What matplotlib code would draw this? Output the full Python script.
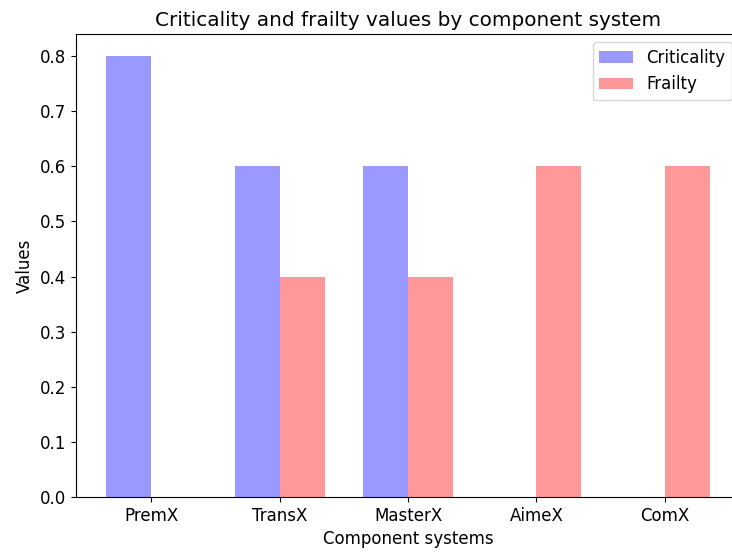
import numpy as np
import matplotlib
matplotlib.use("Agg")
import matplotlib.pyplot as plt

plt.rcParams["font.size"] = 12

# data
systems = ["PremX", "TransX", "MasterX", "AimeX", "ComX"]
criticality = [0.8, 0.6, 0.6, 0.0, 0.0]
frailty = [0.0, 0.4, 0.4, 0.6, 0.6]

index = np.arange(len(systems))
bar_width = 0.35

fig, ax = plt.subplots(figsize=(7.32, 5.52), dpi=100)
fig.subplots_adjust(left=76 / 732, right=740 / 732, bottom=1 - 497 / 552, top=1 - 34 / 552)

ax.bar(index, criticality, bar_width, alpha=0.4, color="b", label="Criticality")
ax.bar(index + bar_width, frailty, bar_width, alpha=0.4, color="r", label="Frailty")

ax.set_xlabel("Component systems")
ax.set_ylabel("Values")
ax.set_title("Criticality and frailty values by component system", fontsize=14.4)
ax.set_xticks(index + bar_width / 2)
ax.set_xticklabels(systems)
ax.legend()

fig.savefig("out.png", dpi=100)
